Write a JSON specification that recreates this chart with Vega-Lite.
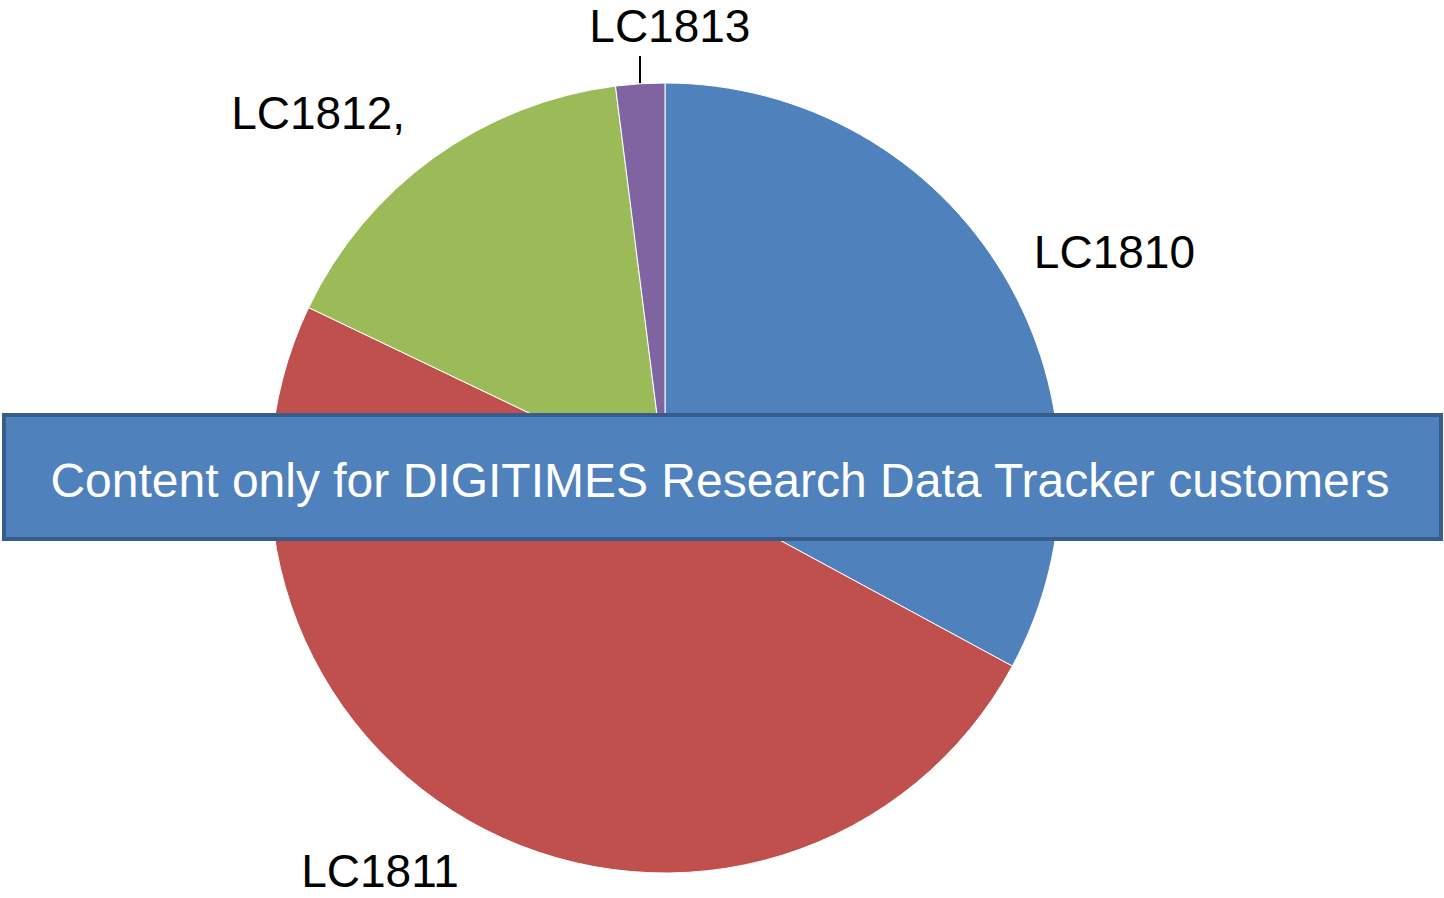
{
  "$schema": "https://vega.github.io/schema/vega-lite/v6.json",
  "width": 1330,
  "height": 836,
  "autosize": {"type": "none"},
  "padding": {"left": 0, "right": 114, "top": 60, "bottom": 2},
  "background": "white",
  "config": {"view": {"stroke": null}, "text": {"font": "Liberation Sans"}},
  "data": {
    "values": [
      {"cat": "LC1810", "label": "LC1810", "value": 32.9},
      {"cat": "LC1811", "label": "LC1811", "value": 49.2},
      {"cat": "LC1812", "label": "LC1812,", "value": 15.9},
      {"cat": "LC1813", "label": "LC1813", "value": 2.0}
    ]
  },
  "layer": [
    {
      "mark": {"type": "arc", "outerRadius": 395, "stroke": "white", "strokeWidth": 1},
      "encoding": {
        "theta": {"field": "value", "type": "quantitative", "stack": true},
        "color": {
          "field": "cat",
          "type": "nominal",
          "scale": {"domain": ["LC1810", "LC1811", "LC1812", "LC1813"], "range": ["#4F81BD", "#C0504D", "#9BBB59", "#8064A2"]},
          "legend": null
        }
      }
    },
    {
      "mark": {"type": "text", "radius": 480, "fontSize": 46, "align": "center", "baseline": "alphabetic", "fill": "black", "dx": 37, "dy": 36},
      "encoding": {
        "theta": {"field": "value", "type": "quantitative", "stack": true},
        "detail": {"field": "cat", "type": "nominal"},
        "text": {"condition": {"test": "datum.cat === 'LC1810'", "field": "label"}, "value": ""}
      }
    },
    {
      "mark": {"type": "text", "radius": 480, "fontSize": 46, "align": "center", "baseline": "alphabetic", "fill": "black", "dx": -67, "dy": -19},
      "encoding": {
        "theta": {"field": "value", "type": "quantitative", "stack": true},
        "detail": {"field": "cat", "type": "nominal"},
        "text": {"condition": {"test": "datum.cat === 'LC1811'", "field": "label"}, "value": ""}
      }
    },
    {
      "mark": {"type": "text", "radius": 480, "fontSize": 46, "align": "center", "baseline": "alphabetic", "fill": "black", "dx": -66, "dy": 40},
      "encoding": {
        "theta": {"field": "value", "type": "quantitative", "stack": true},
        "detail": {"field": "cat", "type": "nominal"},
        "text": {"condition": {"test": "datum.cat === 'LC1812'", "field": "label"}, "value": ""}
      }
    },
    {
      "mark": {"type": "text", "radius": 480, "fontSize": 46, "align": "center", "baseline": "alphabetic", "fill": "black", "dx": 35, "dy": 43},
      "encoding": {
        "theta": {"field": "value", "type": "quantitative", "stack": true},
        "detail": {"field": "cat", "type": "nominal"},
        "text": {"condition": {"test": "datum.cat === 'LC1813'", "field": "label"}, "value": ""}
      }
    },
    {
      "data": {"values": [{"note": "leader"}]},
      "mark": {"type": "rule", "stroke": "black", "strokeWidth": 2},
      "encoding": {
        "x": {"datum": 640, "type": "quantitative", "scale": {"domain": [0, 1330], "nice": false, "zero": false}, "axis": null},
        "y": {"datum": 56, "type": "quantitative", "scale": {"domain": [60, 896], "reverse": true, "nice": false, "zero": false}, "axis": null},
        "y2": {"datum": 83}
      }
    },
    {
      "data": {"values": [{"note": "Content only for DIGITIMES Research Data Tracker customers"}]},
      "mark": {"type": "rect", "fill": "#4F81BD", "stroke": "#385D8A", "strokeWidth": 4},
      "encoding": {
        "x": {"datum": 4, "type": "quantitative"},
        "x2": {"datum": 1441},
        "y": {"datum": 415, "type": "quantitative"},
        "y2": {"datum": 539}
      }
    },
    {
      "data": {"values": [{"note": "Content only for DIGITIMES Research Data Tracker customers"}]},
      "mark": {"type": "text", "fontSize": 48, "align": "center", "baseline": "alphabetic", "fill": "white"},
      "encoding": {
        "x": {"datum": 720, "type": "quantitative"},
        "y": {"datum": 497, "type": "quantitative"},
        "text": {"field": "note"}
      }
    }
  ]
}
